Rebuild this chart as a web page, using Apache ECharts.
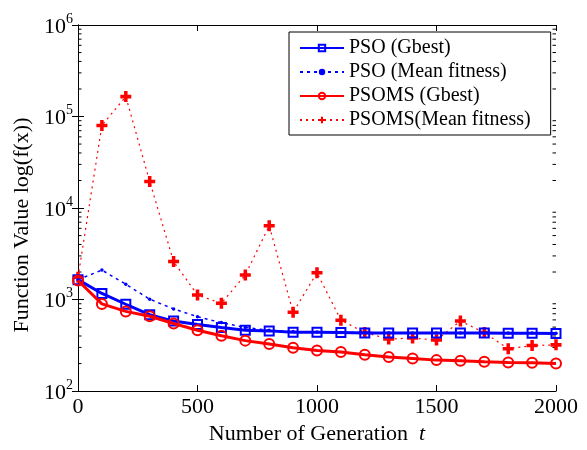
<!DOCTYPE html>
<html>
<head>
<meta charset="utf-8">
<script src="https://cdn.jsdelivr.net/npm/echarts@6/dist/echarts.min.js"></script>
<style>html,body{margin:0;padding:0;background:#fff}#c{width:587px;height:450px}</style>
</head>
<body>
<div id="c"></div>
<script>
var generations = [0,100,200,300,400,500,600,700,800,900,1000,1100,1200,1300,1400,1500,1600,1700,1800,1900,2000];
var psoGbest = [1650,1166,889,684,582,535,494,462,455,440,440,436,432,432,432,430,430,430,428,428,425];
var psoMean = [1650,2100,1470,1010,790,650,560,495,462,448,442,438,436,434,432,432,432,430,430,430,428];
var psomsGbest = [1618,897,743,658,548,462,402,356,327,297,278,267,250,236,227,218,214,209,205,204,200];
var psomsMean = [1750,80000,165000,19500,2600,1120,912,1858,6400,726,1967,596,436,370,380,361,582,436,290,315,320];
var minorTickValues = [];
[100,1000,10000,100000].forEach(function(d){ for (var m=2;m<=9;m++) minorTickValues.push([0, m*d]); });
var xTicks = {min:0, max:2000, interval:500};

function pairs(vals){ return generations.map(function(g,i){ return [g, vals[i]]; }); }

var FONT = "'Liberation Serif','Times New Roman',serif";
var plusPath = 'path://M3.4,0H6.6V3.4H10V6.6H6.6V10H3.4V6.6H0V3.4H3.4Z';

var chart = echarts.init(document.getElementById('c'), null, {renderer:'canvas'});
chart.setOption({
  animation:false,
  backgroundColor:'#fff',
  grid:{left:78, right:31, top:25, bottom:50},
  legend:{
    data:['PSO (Gbest)','PSO (Mean fitness)','PSOMS (Gbest)','PSOMS(Mean fitness)'],
    orient:'vertical', left:289, top:32,
    padding:[6,20,5,10], itemGap:4, itemWidth:44, itemHeight:8,
    backgroundColor:'#fff', borderColor:'#000', borderWidth:1, borderRadius:0,
    textStyle:{fontFamily:FONT, fontSize:20, color:'#000', lineHeight:20}
  },
  xAxis:[
    {type:'value', min:xTicks.min, max:xTicks.max, interval:xTicks.interval, position:'bottom',
     name:'Number of Generation  {i|t}', nameLocation:'middle', nameGap:29,
     nameTextStyle:{fontFamily:FONT, fontSize:22, color:'#000', rich:{i:{fontFamily:FONT, fontSize:22, fontStyle:'italic', color:'#000'}}},
     axisLine:{lineStyle:{color:'#000', width:1}},
     axisTick:{inside:true, length:6, lineStyle:{color:'#000'}},
     axisLabel:{fontFamily:FONT, fontSize:22, color:'#000', margin:5, formatter:function(v){ return String(v); }},
     splitLine:{show:false}},
    {type:'value', min:xTicks.min, max:xTicks.max, interval:xTicks.interval, position:'top',
     axisLine:{lineStyle:{color:'#000', width:1}},
     axisTick:{inside:true, length:6, lineStyle:{color:'#000'}},
     axisLabel:{show:false}, splitLine:{show:false}}
  ],
  yAxis:[
    {type:'log', logBase:10, min:100, max:1000000, position:'left',
     name:'Function Value log(f(x))', nameLocation:'middle', nameGap:44,
     nameTextStyle:{fontFamily:FONT, fontSize:22, color:'#000', padding:[0,34,0,0]},
     axisLine:{lineStyle:{color:'#000', width:1}},
     axisTick:{inside:true, length:6, lineStyle:{color:'#000'}},
     axisLabel:{margin:5, formatter:function(v){ return '{b|10}{s|'+Math.round(Math.log10(v))+'}'; },
       rich:{b:{fontFamily:FONT, fontSize:22, color:'#000', lineHeight:26, verticalAlign:'bottom'},
             s:{fontFamily:FONT, fontSize:14, color:'#000', lineHeight:14, verticalAlign:'top'}}},
     splitLine:{show:false}},
    {type:'log', logBase:10, min:100, max:1000000, position:'right',
     axisLine:{lineStyle:{color:'#000', width:1}},
     axisTick:{inside:true, length:6, lineStyle:{color:'#000'}},
     axisLabel:{show:false}, splitLine:{show:false}}
  ],
  series:[
    {type:'custom', name:'minor', silent:true, xAxisIndex:0, yAxisIndex:0, data:minorTickValues,
     encode:{x:0, y:1},
     renderItem:function(params, api){
       var y = api.coord([0, api.value(1)])[1];
       var cs = params.coordSys;
       return {type:'group', children:[
         {type:'line', shape:{x1:cs.x, y1:y, x2:cs.x+3.5, y2:y}, style:{stroke:'#000', lineWidth:1}},
         {type:'line', shape:{x1:cs.x+cs.width, y1:y, x2:cs.x+cs.width-3.5, y2:y}, style:{stroke:'#000', lineWidth:1}}
       ]};
     }, z:1},
    {type:'line', name:'PSOMS(Mean fitness)', data:pairs(psomsMean),
     symbol:plusPath, symbolSize:11, showAllSymbol:true,
     lineStyle:{color:'#ff0000', width:1.2, type:[2,4]},
     itemStyle:{color:'#ff0000'}, z:3},
    {type:'line', name:'PSO (Mean fitness)', data:pairs(psoMean),
     symbol:'circle', symbolSize:3.5, showAllSymbol:true,
     lineStyle:{color:'#0000ff', width:1.5, type:[3,4]},
     itemStyle:{color:'#0000ff'}, z:3},
    {type:'line', name:'PSO (Gbest)', data:pairs(psoGbest),
     symbol:'rect', symbolSize:9, showAllSymbol:true,
     lineStyle:{color:'#0000ff', width:3},
     itemStyle:{color:'rgba(255,255,255,0)', borderColor:'#0000ff', borderWidth:2}, z:4},
    {type:'line', name:'PSOMS (Gbest)', data:pairs(psomsGbest),
     symbol:'circle', symbolSize:10, showAllSymbol:true,
     lineStyle:{color:'#ff0000', width:3},
     itemStyle:{color:'rgba(255,255,255,0)', borderColor:'#ff0000', borderWidth:2}, z:5}
  ]
});
</script>
</body>
</html>
